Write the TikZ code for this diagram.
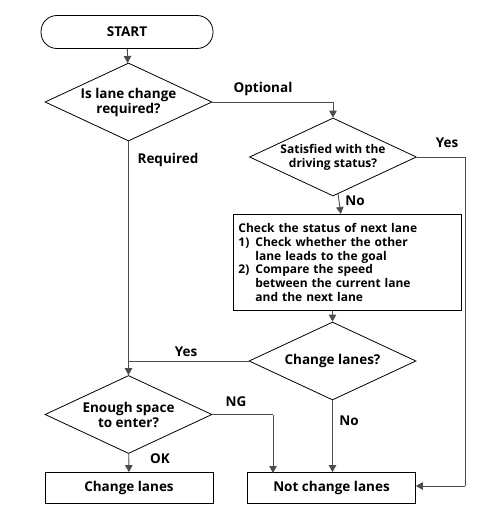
\documentclass[tikz,border=0pt]{standalone}
\usepackage{fontspec}
\setmainfont{Open Sans}
\usetikzlibrary{shapes.geometric,arrows.meta}
\newcommand{\itm}[1]{\makebox[17pt][l]{#1}}
\begin{document}
\begin{tikzpicture}[x=1pt,y=-1pt,
  font=\bfseries\fontsize{13.5}{15}\selectfont,
  shp/.style={draw=black,line width=0.8pt,inner sep=0pt},
  dec/.style={shp,diamond,minimum width=167pt,minimum height=78pt},
  dtxt/.style={align=center,inner sep=0pt},
  term/.style={shp,rectangle,rounded corners=16pt,minimum width=172pt,minimum height=33pt},
  box/.style={shp,rectangle,minimum width=168pt,minimum height=31pt},
  conn/.style={draw=black!70,line width=0.9pt},
  arr/.style={conn,-{Triangle[length=7pt,width=7.5pt]}},
  lbl/.style={inner sep=1pt}]
\useasboundingbox (0,0) rectangle (500,514);
\node[term] (start) at (127,32) {START};
\node[dec] (d1) at (128.5,102) {};
\node[dtxt] (t1) at (d1) {Is lane change\\required?};
\node[dec] (d2) at (333,157) {};
\node[dtxt,font=\bfseries\fontsize{12}{14}\selectfont] (t2) at (d2) {Satisfied with the\\driving status?};
\node[shp,rectangle,minimum width=228pt,minimum height=96pt,anchor=north west,text width=218pt,align=left,inner xsep=5pt,font=\bfseries\fontsize{12}{13.8}\selectfont] (chk) at (233,214) {%
Check the status of next lane\\
\itm{1)}Check whether the other\\
\itm{}lane leads to the goal\\
\itm{2)}Compare the speed\\
\itm{}between the current lane\\
\itm{}and the next lane};
\node[dec] (d3) at (332.5,361) {};
\node[dtxt] (t3) at (d3) {Change lanes?};
\node[dec] (d4) at (128.5,414.5) {};
\node[dtxt] (t4) at (d4) {Enough space\\to enter?};
\node[box] (cl) at (129,488) {Change lanes};
\node[box] (ncl) at (331.5,488) {Not change lanes};
\coordinate (c1) at (333,102);
\coordinate (c2) at (465,157);
\coordinate (c3) at (465,486);
\coordinate (c4) at (129,361);
\coordinate (c5) at (273,414.5);
\coordinate (c6) at (273,473);
\draw[arr] (start) -- (d1);
\draw[arr] (d1.east) -- (c1) -- (d2.north);
\draw[arr] (d2) -- (chk);
\draw[arr] (chk.south -| d3) -- (d3);
\draw[conn] (d2.east) -- (c2) -- (c3);
\draw[arr] (c3) -- (ncl.east |- c3);
\draw[arr] (d1.south) -- (d4.north);
\draw[conn] (d3.west) -- (c4);
\draw[conn] (d4.east) -- (c5);
\draw[arr] (c5) -- (c6);
\draw[arr] (d4) -- (cl);
\draw[arr] (d3.south) -- (ncl.north -| d3.south);
\node[lbl] (lopt) at (263,89) {Optional};
\node[lbl] (lreq) at (168,160) {Required};
\node[lbl] (lyes1) at (447,143) {Yes};
\node[lbl] (lno1) at (355,201) {No};
\node[lbl] (lyes2) at (186,352) {Yes};
\node[lbl] (lng) at (236,402) {NG};
\node[lbl] (lno2) at (349,421) {No};
\node[lbl] (lok) at (160,459) {OK};
\end{tikzpicture}
\end{document}
